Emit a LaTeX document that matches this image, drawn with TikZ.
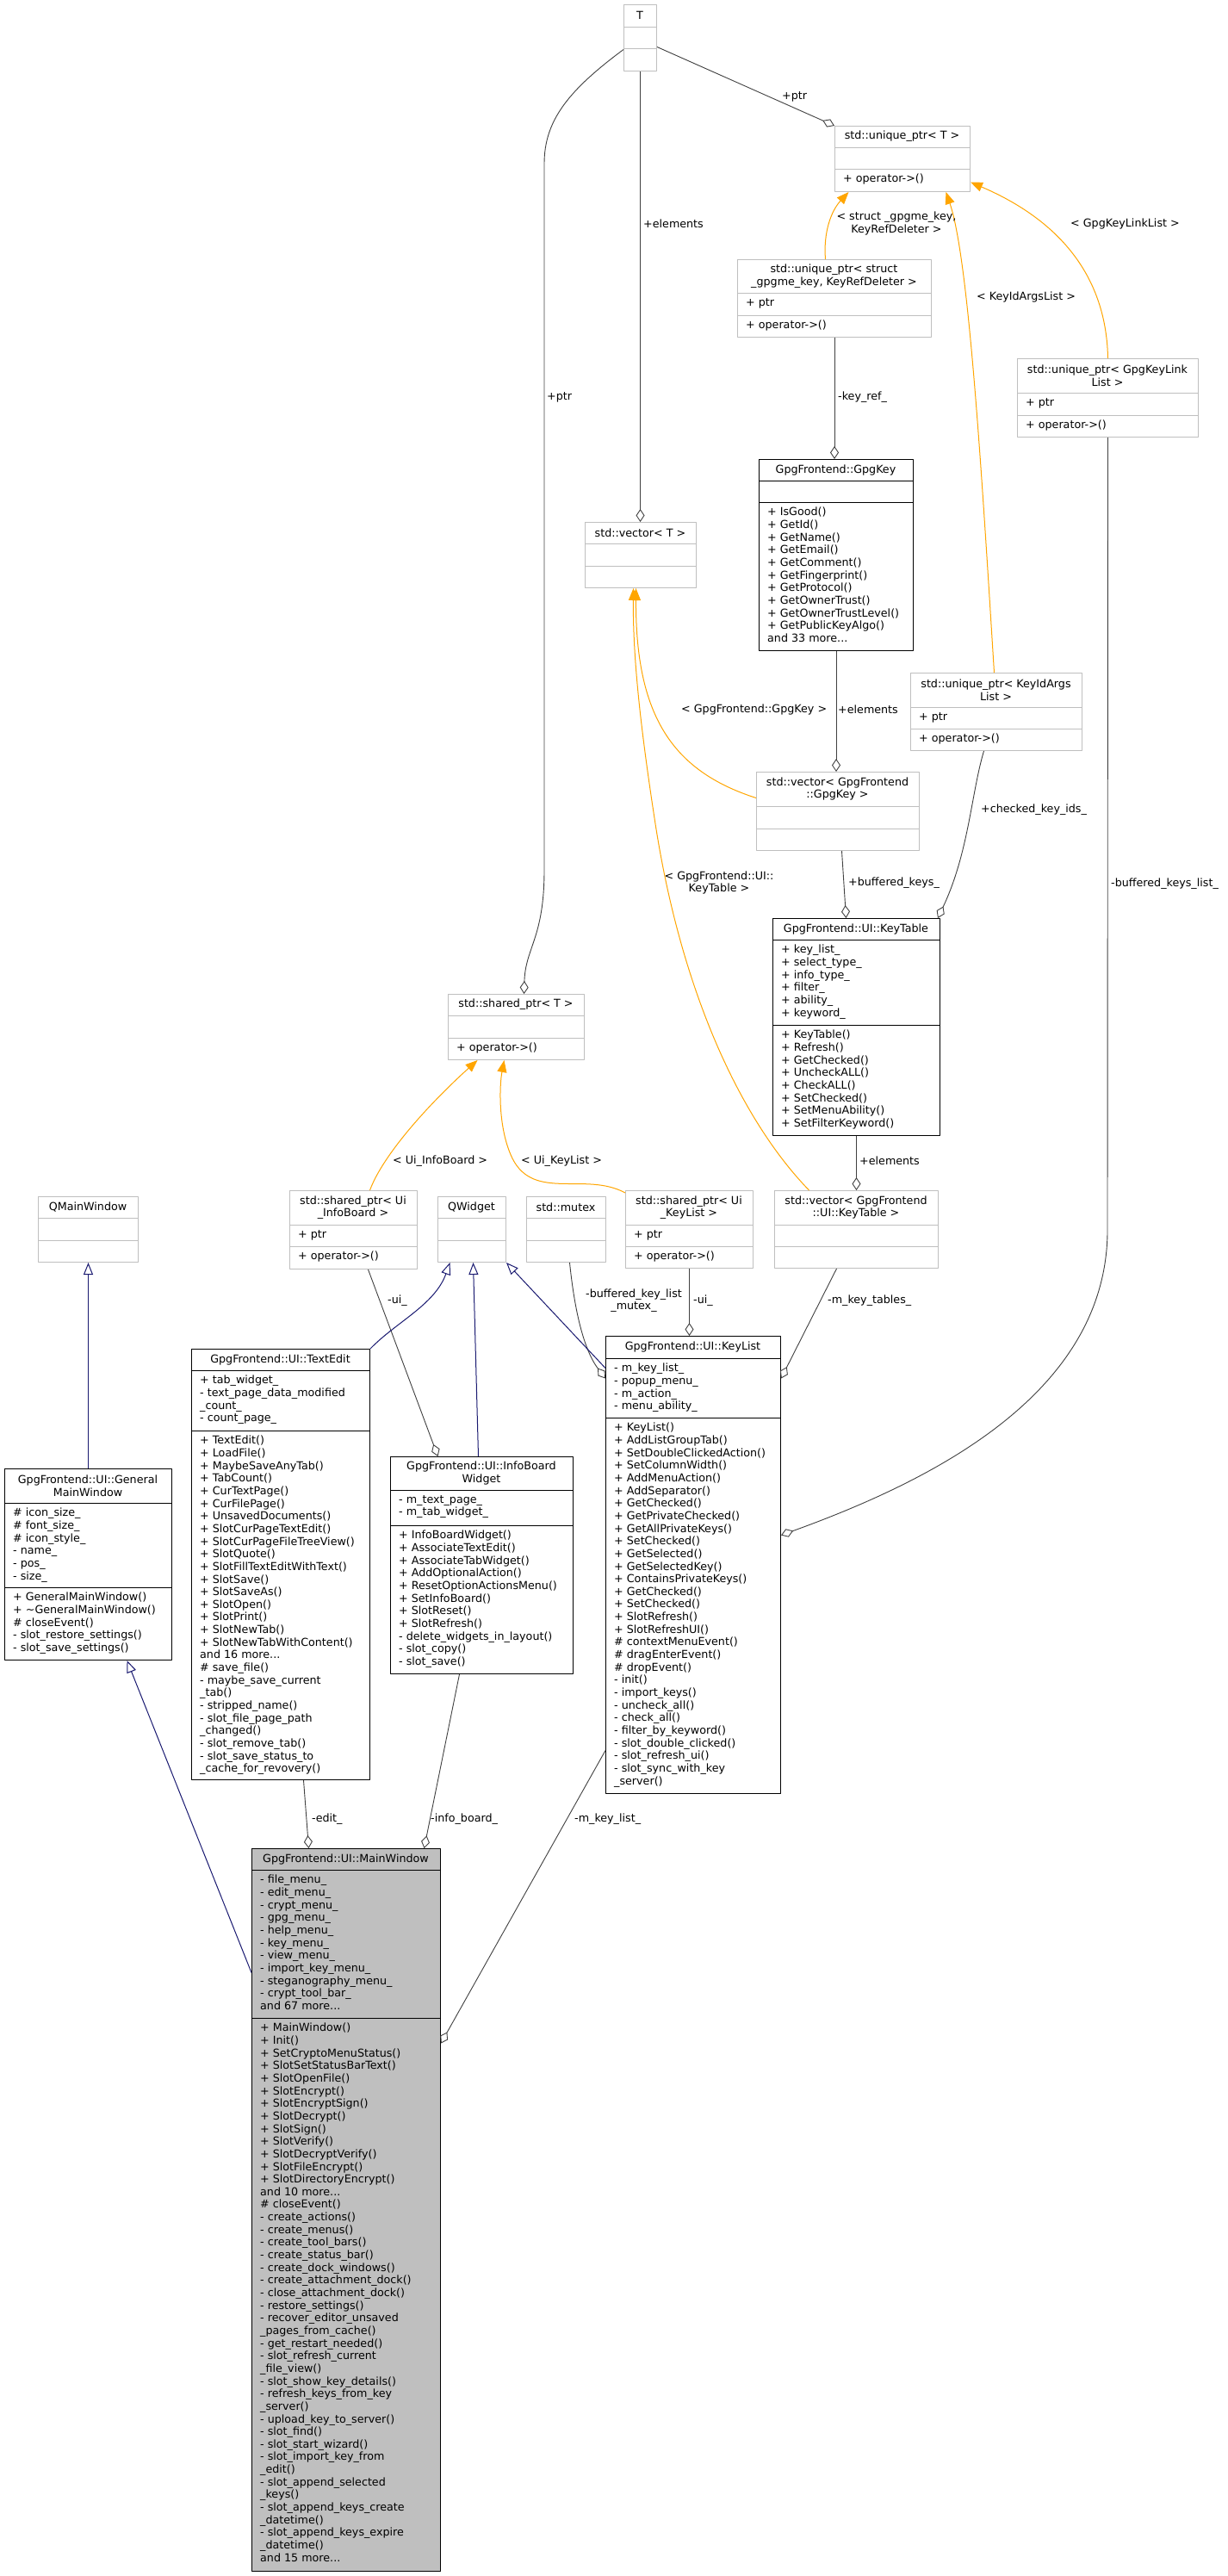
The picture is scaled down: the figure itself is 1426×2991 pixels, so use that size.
\documentclass[tikz,border=0pt]{standalone}
\usepackage{fontspec}
\setmainfont{DejaVu Sans}
\usetikzlibrary{arrows.meta}

\begin{document}
\begin{tikzpicture}[x=1pt, y=-1pt, line join=round,
  font=\fontsize{12.7}{14.65}\selectfont,
  cls/.style={draw=boxG, line width=1pt, fill=white, inner sep=0pt, anchor=north west},
  docc/.style={cls, draw=black},
  ttl/.style={align=center, inner sep=0pt},
  mem/.style={align=left, anchor=north west, inner sep=0pt},
  lbl/.style={inner sep=0pt, anchor=west},
  agg/.style={draw=aggD, line width=0.9pt, -{Diamond[open, length=15pt, width=10pt]}},
  inh/.style={draw=inhB, line width=1pt, -{Triangle[open, length=14pt, width=11pt]}},
  tmpl/.style={draw=tmplO, line width=1pt, -{Triangle[length=14pt, width=11pt]}}]
\definecolor{boxG}{HTML}{BFBFBF}
\definecolor{aggD}{HTML}{404040}
\definecolor{inhB}{HTML}{191970}
\definecolor{tmplO}{HTML}{FFA500}
\definecolor{mainF}{HTML}{BFBFBF}
\useasboundingbox (0,0) rectangle (1426,2991);
% ---- template / external classes ----
\node[cls, minimum width=38pt, minimum height=77pt] (t) at (724,5) {};
\node[ttl] (tTitle) at (743,18) {T};
\node[cls, minimum width=157pt, minimum height=76pt] (uptrT) at (969,146) {};
\node[ttl] (uptrTTitle) at (1047.5,158.5) {std::unique\_ptr< T >};
\node[mem] (uptrTOps) at (979,202) {+ operator->()};
\node[cls, minimum width=225pt, minimum height=90pt] (uptrKey) at (856,301) {};
\node[ttl] (uptrKeyTitle) at (968.5,320.5) {std::unique\_ptr< struct\\\_gpgme\_key, KeyRefDeleter >};
\node[mem] (uptrKeyAttr) at (866,346) {+ ptr};
\node[mem] (uptrKeyOps) at (866,372) {+ operator->()};
\node[cls, minimum width=210pt, minimum height=91pt] (uptrLink) at (1181,416) {};
\node[ttl] (uptrLinkTitle) at (1286,436) {std::unique\_ptr< GpgKeyLink\\List >};
\node[mem] (uptrLinkAttr) at (1191,462) {+ ptr};
\node[mem] (uptrLinkOps) at (1191,488) {+ operator->()};
\node[cls, minimum width=199pt, minimum height=90pt] (uptrArgs) at (1057,781) {};
\node[ttl] (uptrArgsTitle) at (1156.5,801) {std::unique\_ptr< KeyIdArgs\\List >};
\node[mem] (uptrArgsAttr) at (1067,827) {+ ptr};
\node[mem] (uptrArgsOps) at (1067,852) {+ operator->()};
\node[cls, minimum width=129pt, minimum height=76pt] (vecT) at (679,606) {};
\node[ttl] (vecTTitle) at (743.5,618.5) {std::vector< T >};
\node[cls, minimum width=189pt, minimum height=91pt] (vecKey) at (878,896) {};
\node[ttl] (vecKeyTitle) at (972.5,916) {std::vector< GpgFrontend\\::GpgKey >};
\node[cls, minimum width=158pt, minimum height=76pt] (sptrT) at (520,1154) {};
\node[ttl] (sptrTTitle) at (599,1166.5) {std::shared\_ptr< T >};
\node[mem] (sptrTOps) at (530,1211) {+ operator->()};
\node[cls, minimum width=148pt, minimum height=91pt] (sptrInfo) at (336,1382) {};
\node[ttl] (sptrInfoTitle) at (410,1402) {std::shared\_ptr< Ui\\\_InfoBoard >};
\node[mem] (sptrInfoAttr) at (346,1428) {+ ptr};
\node[mem] (sptrInfoOps) at (346,1453) {+ operator->()};
\node[cls, minimum width=79pt, minimum height=76pt] (qWidget) at (508,1389) {};
\node[ttl] (qWidgetTitle) at (547.5,1401.5) {QWidget};
\node[cls, minimum width=92pt, minimum height=76pt] (mutex) at (611,1389) {};
\node[ttl] (mutexTitle) at (657,1401.5) {std::mutex};
\node[cls, minimum width=148pt, minimum height=90pt] (sptrList) at (726,1382) {};
\node[ttl] (sptrListTitle) at (800,1402) {std::shared\_ptr< Ui\\\_KeyList >};
\node[mem] (sptrListAttr) at (736,1428) {+ ptr};
\node[mem] (sptrListOps) at (736,1453) {+ operator->()};
\node[cls, minimum width=190pt, minimum height=90pt] (vecTable) at (899,1382) {};
\node[ttl] (vecTableTitle) at (994,1402) {std::vector< GpgFrontend\\::UI::KeyTable >};
\node[cls, minimum width=116pt, minimum height=76pt] (qMainWin) at (44,1389) {};
\node[ttl] (qMainWinTitle) at (102,1401.5) {QMainWindow};
\foreach \xa/\xb/\yy in {724/762/31, 724/762/56, 969/1126/171, 969/1126/196,
  856/1081/340, 856/1081/366, 1181/1391/456, 1181/1391/482, 1057/1256/821,
  1057/1256/846, 679/808/631, 679/808/657, 878/1067/936, 878/1067/962,
  520/678/1179, 520/678/1205, 336/484/1422, 336/484/1447, 508/587/1414,
  508/587/1440, 611/703/1414, 611/703/1440, 726/874/1422, 726/874/1447,
  899/1089/1422, 899/1089/1447, 44/160/1414, 44/160/1440}
  \draw[boxG, line width=1pt] (\xa,\yy) -- (\xb,\yy);
% ---- documented classes ----
\node[docc, minimum width=179pt, minimum height=222pt] (gpgKey) at (881,533) {};
\node[ttl] (gpgKeyTitle) at (970.5,545.5) {GpgFrontend::GpgKey};
\node[mem] (gpgKeyOps) at (891,589) {+ IsGood()\\+ GetId()\\+ GetName()\\+ GetEmail()\\+ GetComment()\\+ GetFingerprint()\\+ GetProtocol()\\+ GetOwnerTrust()\\+ GetOwnerTrustLevel()\\+ GetPublicKeyAlgo()\\and 33 more...};
\node[docc, minimum width=194pt, minimum height=252pt] (keyTable) at (897,1066) {};
\node[ttl] (keyTableTitle) at (994,1078.5) {GpgFrontend::UI::KeyTable};
\node[mem] (keyTableAttr) at (907,1097) {+ key\_list\_\\+ select\_type\_\\+ info\_type\_\\+ filter\_\\+ ability\_\\+ keyword\_};
\node[mem] (keyTableOps) at (907,1196) {+ KeyTable()\\+ Refresh()\\+ GetChecked()\\+ UncheckALL()\\+ CheckALL()\\+ SetChecked()\\+ SetMenuAbility()\\+ SetFilterKeyword()};
\node[docc, minimum width=194pt, minimum height=222pt] (genWin) at (5,1705) {};
\node[ttl] (genWinTitle) at (102,1725) {GpgFrontend::UI::General\\MainWindow};
\node[mem] (genWinAttr) at (15,1751) {\# icon\_size\_\\\# font\_size\_\\\# icon\_style\_\\- name\_\\- pos\_\\- size\_};
\node[mem] (genWinOps) at (15,1849) {+ GeneralMainWindow()\\+ \textasciitilde GeneralMainWindow()\\\# closeEvent()\\- slot\_restore\_settings()\\- slot\_save\_settings()};
\node[docc, minimum width=207pt, minimum height=500pt] (textEdit) at (222,1566) {};
\node[ttl] (textEditTitle) at (325.5,1578.5) {GpgFrontend::UI::TextEdit};
\node[mem] (textEditAttr) at (232,1597) {+ tab\_widget\_\\- text\_page\_data\_modified\\\_count\_\\- count\_page\_};
\node[mem] (textEditOps) at (232,1667) {+ TextEdit()\\+ LoadFile()\\+ MaybeSaveAnyTab()\\+ TabCount()\\+ CurTextPage()\\+ CurFilePage()\\+ UnsavedDocuments()\\+ SlotCurPageTextEdit()\\+ SlotCurPageFileTreeView()\\+ SlotQuote()\\+ SlotFillTextEditWithText()\\+ SlotSave()\\+ SlotSaveAs()\\+ SlotOpen()\\+ SlotPrint()\\+ SlotNewTab()\\+ SlotNewTabWithContent()\\and 16 more...\\\# save\_file()\\- maybe\_save\_current\\\_tab()\\- stripped\_name()\\- slot\_file\_page\_path\\\_changed()\\- slot\_remove\_tab()\\- slot\_save\_status\_to\\\_cache\_for\_revovery()};
\node[docc, minimum width=212pt, minimum height=252pt] (infoWidget) at (453,1691) {};
\node[ttl] (infoWidgetTitle) at (559,1710.5) {GpgFrontend::UI::InfoBoard\\Widget};
\node[mem] (infoWidgetAttr) at (463,1736) {- m\_text\_page\_\\- m\_tab\_widget\_};
\node[mem] (infoWidgetOps) at (463,1777) {+ InfoBoardWidget()\\+ AssociateTextEdit()\\+ AssociateTabWidget()\\+ AddOptionalAction()\\+ ResetOptionActionsMenu()\\+ SetInfoBoard()\\+ SlotReset()\\+ SlotRefresh()\\- delete\_widgets\_in\_layout()\\- slot\_copy()\\- slot\_save()};
\node[docc, minimum width=203pt, minimum height=531pt] (keyList) at (703,1551) {};
\node[ttl] (keyListTitle) at (804.5,1564) {GpgFrontend::UI::KeyList};
\node[mem] (keyListAttr) at (713,1583) {- m\_key\_list\_\\- popup\_menu\_\\- m\_action\_\\- menu\_ability\_};
\node[mem] (keyListOps) at (713,1652) {+ KeyList()\\+ AddListGroupTab()\\+ SetDoubleClickedAction()\\+ SetColumnWidth()\\+ AddMenuAction()\\+ AddSeparator()\\+ GetChecked()\\+ GetPrivateChecked()\\+ GetAllPrivateKeys()\\+ SetChecked()\\+ GetSelected()\\+ GetSelectedKey()\\+ ContainsPrivateKeys()\\+ GetChecked()\\+ SetChecked()\\+ SlotRefresh()\\+ SlotRefreshUI()\\\# contextMenuEvent()\\\# dragEnterEvent()\\\# dropEvent()\\- init()\\- import\_keys()\\- uncheck\_all()\\- check\_all()\\- filter\_by\_keyword()\\- slot\_double\_clicked()\\- slot\_refresh\_ui()\\- slot\_sync\_with\_key\\\_server()};
\node[docc, fill=mainF, minimum width=219pt, minimum height=839pt] (mainWin) at (292,2146) {};
\node[ttl] (mainWinTitle) at (401.5,2158.5) {GpgFrontend::UI::MainWindow};
\node[mem] (mainWinAttr) at (302,2177) {- file\_menu\_\\- edit\_menu\_\\- crypt\_menu\_\\- gpg\_menu\_\\- help\_menu\_\\- key\_menu\_\\- view\_menu\_\\- import\_key\_menu\_\\- steganography\_menu\_\\- crypt\_tool\_bar\_\\and 67 more...};
\node[mem] (mainWinOps) at (302,2349) {+ MainWindow()\\+ Init()\\+ SetCryptoMenuStatus()\\+ SlotSetStatusBarText()\\+ SlotOpenFile()\\+ SlotEncrypt()\\+ SlotEncryptSign()\\+ SlotDecrypt()\\+ SlotSign()\\+ SlotVerify()\\+ SlotDecryptVerify()\\+ SlotFileEncrypt()\\+ SlotDirectoryEncrypt()\\and 10 more...\\\# closeEvent()\\- create\_actions()\\- create\_menus()\\- create\_tool\_bars()\\- create\_status\_bar()\\- create\_dock\_windows()\\- create\_attachment\_dock()\\- close\_attachment\_dock()\\- restore\_settings()\\- recover\_editor\_unsaved\\\_pages\_from\_cache()\\- get\_restart\_needed()\\- slot\_refresh\_current\\\_file\_view()\\- slot\_show\_key\_details()\\- refresh\_keys\_from\_key\\\_server()\\- upload\_key\_to\_server()\\- slot\_find()\\- slot\_start\_wizard()\\- slot\_import\_key\_from\\\_edit()\\- slot\_append\_selected\\\_keys()\\- slot\_append\_keys\_create\\\_datetime()\\- slot\_append\_keys\_expire\\\_datetime()\\and 15 more...};
\foreach \xa/\xb/\yy in {881/1060/558, 881/1060/583, 897/1091/1091, 897/1091/1190,
  5/199/1745, 5/199/1843, 222/429/1591, 222/429/1661, 453/665/1730,
  453/665/1771, 703/906/1577, 703/906/1646, 292/511/2171, 292/511/2343}
  \draw[black, line width=1pt] (\xa,\yy) -- (\xb,\yy);
% ---- aggregation (members) ----
\draw[agg] ([yshift=-10.5pt]t.east) -- (uptrT.north west);
\draw[agg] (t.south) -- (t.south |- vecT.north);
\draw[agg] ([yshift=-13.5pt]t.west) .. controls (660,105) and (632,140) .. (632,190)
  -- (632,1010) .. controls (632,1090) and (610,1100) .. ([xshift=9pt]sptrT.north);
\draw[agg] (uptrKey.south) -- (uptrKey.south |- gpgKey.north);
\draw[agg] (gpgKey.south) -- (gpgKey.south |- vecKey.north);
\draw[agg] ([xshift=4.5pt]vecKey.south) -- ([xshift=-12pt]keyTable.north);
\draw[agg] ([xshift=-14.5pt]uptrArgs.south) .. controls (1128,920) and (1125,990) .. ([xshift=-3pt]keyTable.north east);
\draw[agg] (keyTable.south) -- (vecTable.north);
\draw[agg] (uptrLink.south) -- (1286,1432) .. controls (1283,1620) and (1080,1720) .. ([yshift=34.5pt]keyList.east);
\draw[agg] ([xshift=17pt]sptrInfo.south) -- ([xshift=-51pt]infoWidget.north);
\draw[agg] (sptrList.south) -- (sptrList.south |- keyList.north);
\draw[agg] ([xshift=4pt]mutex.south) .. controls (668,1530) and (680,1570) .. ([yshift=216.5pt]keyList.west);
\draw[agg] ([xshift=-23pt]vecTable.south) -- ([yshift=216.5pt]keyList.east);
\draw[agg] ([xshift=26.5pt]textEdit.south) -- ([xshift=-43.5pt]mainWin.north);
\draw[agg] ([xshift=-26pt]infoWidget.south) -- ([xshift=90.5pt]mainWin.north);
\draw[agg] ([yshift=-215.5pt]keyList.west) -- ([yshift=193.5pt]mainWin.east);
% ---- inheritance ----
\draw[inh] (genWin.north) -- (qMainWin.south);
\draw[inh] ([yshift=275.5pt]mainWin.west) -- ([xshift=45pt]genWin.south);
\draw[inh] (textEdit.north east) .. controls (460,1535) and (505,1515) .. ([xshift=-25.5pt]qWidget.south);
\draw[inh] ([xshift=-4pt]infoWidget.north) -- ([xshift=1.5pt]qWidget.south);
\draw[inh] ([yshift=228.5pt]keyList.west) -- (qWidget.south east);
% ---- template instances ----
\draw[tmpl] ([xshift=-10.5pt]uptrKey.north) .. controls (956,270) and (965,245) .. ([xshift=-62.5pt]uptrT.south);
\draw[tmpl] ([xshift=-2.5pt]uptrArgs.north) .. controls (1140,550) and (1125,300) .. ([xshift=50.5pt]uptrT.south);
\draw[tmpl] (uptrLink.north) .. controls (1285,330) and (1240,260) .. ([yshift=-27pt]uptrT.east);
\draw[tmpl] ([yshift=15.5pt]vecKey.west) .. controls (780,895) and (738,830) .. ([xshift=-5.5pt]vecT.south);
\draw[tmpl] ([xshift=-55pt]vecTable.north) .. controls (860,1300) and (790,1150) .. (760,950)
  .. controls (740,820) and (735,750) .. ([xshift=-8.5pt]vecT.south);
\draw[tmpl] ([xshift=19pt]sptrInfo.north) .. controls (445,1340) and (500,1280) .. ([xshift=-45pt]sptrT.south);
\draw[tmpl] ([yshift=-3pt]sptrList.north west) .. controls (680,1360) and (620,1395) .. (595,1345)
  .. controls (578,1310) and (580,1260) .. ([xshift=-14pt]sptrT.south);
% ---- edge labels ----
\node[lbl] (lPtrA) at (908,112) {+ptr};
\node[lbl] (lElemA) at (747,260) {+elements};
\node[lbl] (lPtrB) at (635,461) {+ptr};
\node[ttl] (lStruct) at (1041,259.5) {< struct \_gpgme\_key,\\KeyRefDeleter >};
\node[lbl] (lArgs) at (1134,345) {< KeyIdArgsList >};
\node[lbl] (lLink) at (1243,260) {< GpgKeyLinkList >};
\node[lbl] (lKeyRef) at (973,461) {-key\_ref\_};
\node[lbl] (lVecKey) at (791,824) {< GpgFrontend::GpgKey >};
\node[lbl] (lElemB) at (973,824) {+elements};
\node[lbl] (lChecked) at (1139,940) {+checked\_key\_ids\_};
\node[lbl] (lBufList) at (1290,1026) {-buffered\_keys\_list\_};
\node[lbl] (lBufKeys) at (985,1025) {+buffered\_keys\_};
\node[ttl] (lVecTable) at (835,1025) {< GpgFrontend::UI::\\KeyTable >};
\node[lbl] (lElemC) at (998,1348) {+elements};
\node[lbl] (lInfo) at (456,1348) {< Ui\_InfoBoard >};
\node[lbl] (lList) at (605,1348) {< Ui\_KeyList >};
\node[lbl] (lUiA) at (450,1510) {-ui\_};
\node[ttl] (lMutex) at (736,1510) {-buffered\_key\_list\\\_mutex\_};
\node[lbl] (lUiB) at (805,1510) {-ui\_};
\node[lbl] (lTables) at (961,1510) {-m\_key\_tables\_};
\node[lbl] (lEdit) at (362,2112) {-edit\_};
\node[lbl] (lBoard) at (500,2112) {-info\_board\_};
\node[lbl] (lKeyList) at (667,2112) {-m\_key\_list\_};
\end{tikzpicture}
\end{document}
